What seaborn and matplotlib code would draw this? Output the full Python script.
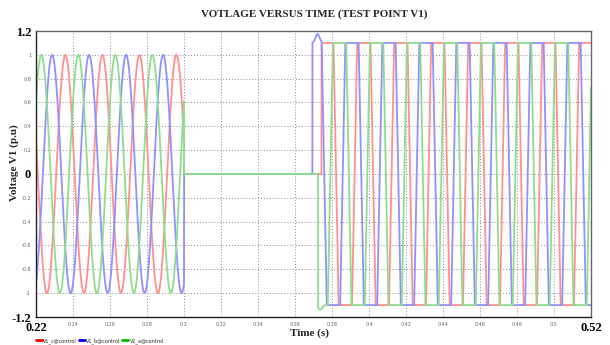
import numpy as np
import pandas as pd
import matplotlib
matplotlib.use("Agg")
import matplotlib.pyplot as plt
import seaborn as sns
from matplotlib.lines import Line2D

# Three-phase voltage at test point V1 (per unit)
phase_names = ["V1_c@control", "V1_b@control", "V1_a@control"]
legend_colors = ["#ff0000", "#0000ff", "#00c000"]
trace_colors = ["#ff9090", "#9090ff", "#8fdc8f"]

freq_hz = 50.0
fault_time = 0.30                          # all phases collapse to zero
pre_amplitude = 1.0                        # healthy sinusoid peak
pre_peak_time = [0.2359, 0.2287, 0.2229]   # c, b, a crest times before the fault
post_peak_time = [0.2372, 0.2308, 0.2241]  # crest times after reclosing
reclose_time = [0.3743, 0.3694, 0.3724]    # each phase re-energised
post_gain = 2.6                            # drive of the saturated waveform
post_limit = 1.1                           # flat-top level after reclosing
first_swing_time = [0.3743, 0.3722, 0.3736]
first_swing_extra = [0.0, 0.075, -0.04]    # overshoot of the first swing

x_ticks = np.round(np.arange(0.22, 0.5201, 0.02), 2)
x_labels = ["0.22", "0.24", "0.26", "0.28", "0.3", "0.32", "0.34", "0.36",
            "0.38", "0.4", "0.42", "0.44", "0.46", "0.48", "0.5", "0.52"]
y_ticks = np.round(np.arange(-1.2, 1.2001, 0.2), 1)
y_labels = ["-1.2", "-1", "-0.8", "-0.6", "-0.4", "-0.2", "0",
            "0.2", "0.4", "0.6", "0.8", "1", "1.2"]
bold_x = {"0.22", "0.52"}
bold_y = {"-1.2", "0", "1.2"}

# Build the sampled waveforms
t = np.arange(0.22, 0.52 + 1e-9, 1e-5)
frames = []
for name, tp_pre, tp_post, tr, tf, ex in zip(phase_names, pre_peak_time, post_peak_time,
                                              reclose_time, first_swing_time, first_swing_extra):
    pre = pre_amplitude * np.cos(2 * np.pi * freq_hz * (t - tp_pre))
    post = np.clip(post_gain * np.cos(2 * np.pi * freq_hz * (t - tp_post)),
                   -post_limit, post_limit)
    post = post + ex * np.exp(-0.5 * ((t - tf) / 0.0011) ** 2)
    v = np.where(t < fault_time, pre, np.where(t < tr, 0.0, post))
    frames.append(pd.DataFrame({"Time": t, "Voltage": v, "Signal": name}))
df = pd.concat(frames, ignore_index=True)

sns.set_style("white")
plt.rcParams["font.family"] = ["DejaVu Sans"]

fig = plt.figure(figsize=(6.10, 3.45), dpi=100)
ax = fig.add_axes([36 / 610, 1 - 317 / 345, 555 / 610, 286 / 345])

sns.lineplot(data=df, x="Time", y="Voltage", hue="Signal", hue_order=phase_names,
             palette=trace_colors, estimator=None, sort=False, linewidth=1.3,
             legend=False, ax=ax)

ax.set_xlim(0.22, 0.52)
ax.set_ylim(-1.2, 1.2)
ax.set_xlabel("")
ax.set_ylabel("")

ax.set_xticks(x_ticks)
ax.set_xticklabels(x_labels)
ax.set_yticks(y_ticks)
ax.set_yticklabels(y_labels)
ax.tick_params(axis="both", length=2.5, width=0.6, color="#999999", pad=1)

for lab in ax.get_xticklabels():
    if lab.get_text() in bold_x:
        lab.set_fontfamily("Liberation Serif")
        lab.set_fontweight("bold")
        lab.set_fontsize(9)
        lab.set_color("black")
    else:
        lab.set_fontsize(3.5)
        lab.set_color("#666666")
for lab in ax.get_yticklabels():
    if lab.get_text() in bold_y:
        lab.set_fontfamily("Liberation Serif")
        lab.set_fontweight("bold")
        lab.set_fontsize(9)
        lab.set_color("black")
    else:
        lab.set_fontsize(3.5)
        lab.set_color("#666666")

ax.grid(True, linestyle=(0, (1, 2)), color="#8a8a8a", linewidth=0.7)
for side in ["top", "right", "bottom", "left"]:
    ax.spines[side].set_color("#666666")
    ax.spines[side].set_linewidth(1.0)
ax.spines["left"].set_color("#222222")
ax.spines["bottom"].set_color("#222222")

serif_bold = dict(family="Liberation Serif", weight="bold")
fig.text(314 / 610, 1 - 14 / 345, "VOTLAGE VERSUS TIME (TEST POINT V1)",
         ha="center", va="center", fontsize=8, **serif_bold)
fig.text(310 / 610, 1 - 333 / 345, "Time (s)", ha="center", va="center",
         fontsize=8, **serif_bold)
fig.text(14 / 610, 1 - 163 / 345, "Voltage V1 (p.u)", ha="center", va="center",
         rotation=90, fontsize=8, **serif_bold)

handles = [Line2D([0], [0], color=c, linewidth=2) for c in legend_colors]
fig.legend(handles, phase_names, loc="center left",
           bbox_to_anchor=(36 / 610, 1 - 341 / 345), ncol=3, frameon=False,
           fontsize=3.5, handlelength=1.2, handletextpad=0.3, columnspacing=0.4,
           borderpad=0, borderaxespad=0)

fig.savefig("out.png", dpi=100)
